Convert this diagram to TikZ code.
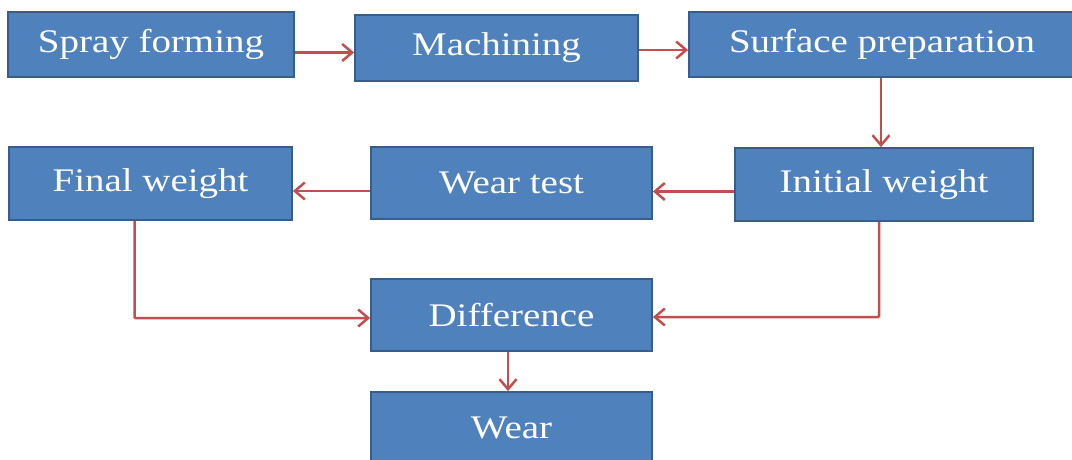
\documentclass[tikz,border=0pt]{standalone}
\usepackage{fontspec}
\usetikzlibrary{arrows.meta}
\newfontfamily\boxfont[FakeStretch=1.18]{Liberation Serif}
\definecolor{boxblue}{HTML}{4F81BD}
\definecolor{boxedge}{HTML}{385D8A}
\definecolor{flowred}{HTML}{C0504D}
\tikzset{
    stepbox/.style={draw=boxedge, line width=1.8pt, fill=boxblue, text=white,
        font=\boxfont\fontsize{33}{36}\selectfont, inner sep=0pt,
        minimum width=281pt, minimum height=72pt},
    flow/.style={draw=flowred, line width=2.5pt,
        -{Straight Barb[length=10pt,width=17pt,line width=2.5pt]}}
}

\begin{document}
\begin{tikzpicture}[x=1pt,y=-1pt]
    \useasboundingbox (0,0) rectangle (1072,459);

    \node[stepbox, minimum width=286pt, minimum height=65pt] (spray) at (151,44.5) {Spray forming};
    \node[stepbox, minimum width=283pt, minimum height=66pt] (mach) at (496.5,48) {Machining};
    \node[stepbox, minimum width=386pt, minimum height=65pt] (surf) at (882,44.5) {Surface preparation};
    \node[stepbox, minimum width=298pt, minimum height=73pt] (init) at (884,184.5) {Initial weight};
    \node[stepbox] (weartest) at (511.5,183) {Wear test};
    \node[stepbox, minimum width=283pt, minimum height=73pt] (final) at (150.5,183.5) {Final weight};
    \node[stepbox] (diff) at (511.5,315) {Difference};
    \node[stepbox] (wear) at (511.5,428) {Wear};

    \draw[flow] ([yshift=-8pt]spray.east) -- ([yshift=-8pt]spray.east -| mach.west);
    \draw[flow] ([yshift=-2pt]mach.east) -- ([yshift=-2pt]mach.east -| surf.west);
    \draw[flow] ([xshift=-3pt]init.north |- surf.south) -- ([xshift=-3pt]init.north);
    \draw[flow] ([yshift=-7pt]init.west) -- ([yshift=-7pt]init.west -| weartest.east);
    \draw[flow] ([yshift=-8pt]weartest.west) -- ([yshift=-8pt]weartest.west -| final.east);
    \draw[flow, rounded corners=1pt] ([xshift=-16pt]final.south) |- ([yshift=-3pt]diff.west);
    \draw[flow, rounded corners=1pt] ([xshift=-5pt]init.south) |- ([yshift=-2pt]diff.east);
    \draw[flow] ([xshift=-3.5pt]diff.south) -- ([xshift=-3.5pt]wear.north);
\end{tikzpicture}
\end{document}
